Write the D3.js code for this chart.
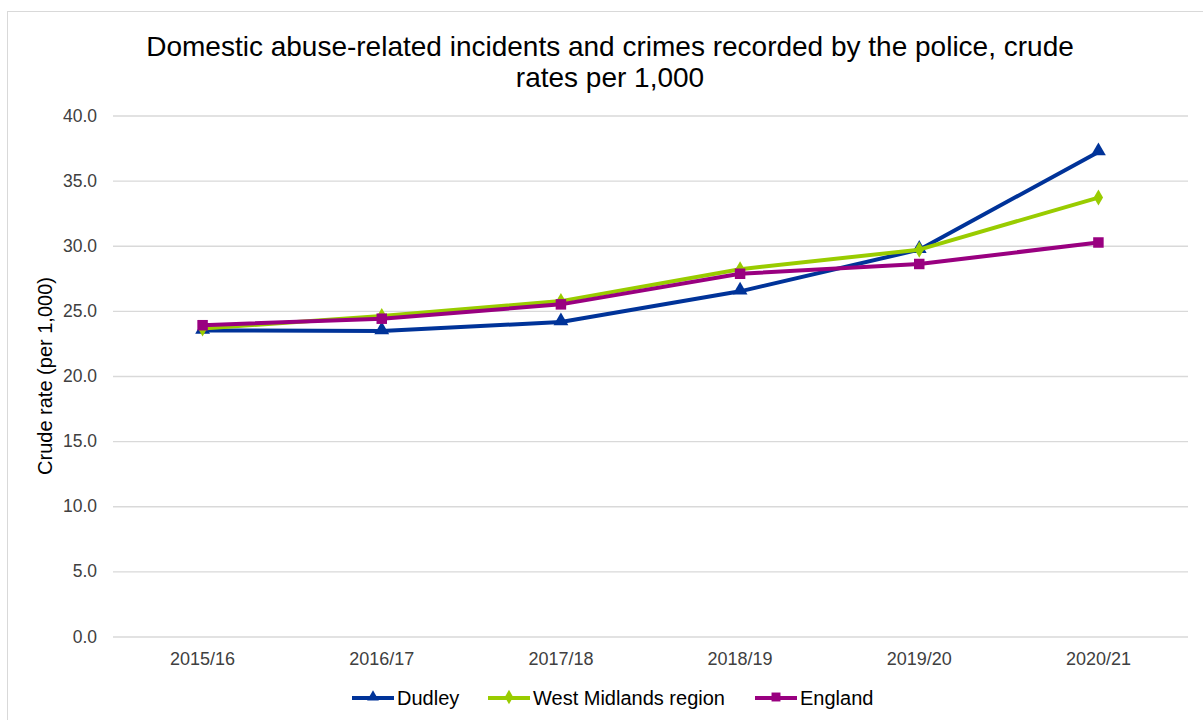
<!DOCTYPE html>
<html>
<head>
<meta charset="utf-8">
<script src="https://cdn.jsdelivr.net/npm/d3@7"></script>
<style>
  html, body { margin: 0; padding: 0; background: #fff; }
  svg { display: block; font-family: "Liberation Sans", Arial, sans-serif; }
</style>
</head>
<body>
<svg id="chart" width="1203" height="720"></svg>
<script>
// Financial years on the x axis
const years = ["2015/16", "2016/17", "2017/18", "2018/19", "2019/20", "2020/21"];

// Crude rates per 1,000 population
const dudley = [23.5, 23.45, 24.15, 26.5, 29.7, 37.2];
const westMidlands = [23.65, 24.6, 25.75, 28.2, 29.7, 33.7];
const england = [23.9, 24.4, 25.5, 27.85, 28.6, 30.25];

const yTicks = [0, 5, 10, 15, 20, 25, 30, 35, 40];

const seriesList = [
  { name: "Dudley", values: dudley, color: "#003399", marker: "triangle" },
  { name: "West Midlands region", values: westMidlands, color: "#99CC00", marker: "diamond" },
  { name: "England", values: england, color: "#990080", marker: "square" }
];

const svg = d3.select("#chart");
const W = 1203, H = 720;
const plot = { left: 113, right: 1188, top: 115.5, bottom: 636.5 };

// Outer chart border
svg.append("rect")
  .attr("x", 7.5).attr("y", 11.5)
  .attr("width", W + 10).attr("height", H + 10)
  .attr("fill", "#fff").attr("stroke", "#d9d9d9").attr("stroke-width", 1);

const x = d3.scaleBand().domain(years).range([plot.left, plot.right]);
const y = d3.scaleLinear().domain([0, 40]).range([plot.bottom, plot.top]);

// Horizontal gridlines and y tick labels
const yAxis = d3.axisLeft(y).tickValues(yTicks).tickFormat(d3.format(".1f"))
  .tickSize(-(plot.right - plot.left)).tickPadding(16);
const gy = svg.append("g").attr("transform", `translate(${plot.left},0)`).call(yAxis);
gy.select(".domain").remove();
gy.selectAll(".tick line").attr("stroke", "#d9d9d9").attr("stroke-width", 1.3);
gy.selectAll(".tick text").attr("fill", "#404040").attr("font-size", 17.5)
  .attr("font-family", "Liberation Sans, Arial, sans-serif");

// Category labels
const xAxis = d3.axisBottom(x).tickSize(0).tickPadding(16);
const gx = svg.append("g").attr("transform", `translate(0,${plot.bottom})`).call(xAxis);
gx.select(".domain").remove();
gx.selectAll(".tick text").attr("fill", "#404040").attr("font-size", 18)
  .attr("font-family", "Liberation Sans, Arial, sans-serif");

const cx = d => x(d) + x.bandwidth() / 2;

const symbolFor = {
  triangle: d3.symbol().type(d3.symbolTriangle).size(95),
  diamond: d3.symbol().type(d3.symbolDiamond).size(75),
  square: d3.symbol().type(d3.symbolSquare).size(110)
};

const line = d3.line().x((d, i) => cx(years[i])).y(d => y(d));

seriesList.forEach(s => {
  svg.append("path").datum(s.values)
    .attr("d", line)
    .attr("fill", "none")
    .attr("stroke", s.color)
    .attr("stroke-width", 4)
    .attr("stroke-linejoin", "round");
  svg.append("g").selectAll("path").data(s.values).join("path")
    .attr("transform", (d, i) => `translate(${cx(years[i])},${y(d) + (s.marker === "triangle" ? -1 : 0)})`)
    .attr("d", symbolFor[s.marker]())
    .attr("fill", s.color);
});

// Title
const title = svg.append("text")
  .attr("text-anchor", "middle")
  .attr("font-size", 28).attr("fill", "#000");
title.append("tspan").attr("x", 610).attr("y", 56)
  .text("Domestic abuse-related incidents and crimes recorded by the police, crude");
title.append("tspan").attr("x", 610).attr("y", 87).text("rates per 1,000");

// Y axis title
svg.append("text")
  .attr("transform", `translate(52,${(plot.top + plot.bottom) / 2}) rotate(-90)`)
  .attr("text-anchor", "middle")
  .attr("font-size", 20).attr("fill", "#000")
  .text("Crude rate (per 1,000)");

// Legend
const legendItems = [
  { s: seriesList[0], x0: 352 },
  { s: seriesList[1], x0: 488 },
  { s: seriesList[2], x0: 755 }
];
const ly = 698;
legendItems.forEach(({ s, x0 }) => {
  const g = svg.append("g");
  g.append("line").attr("x1", x0).attr("x2", x0 + 42).attr("y1", ly).attr("y2", ly)
    .attr("stroke", s.color).attr("stroke-width", 4);
  g.append("path").attr("transform", `translate(${x0 + 21},${ly - 1})`)
    .attr("d", d3.symbol().type(
      s.marker === "triangle" ? d3.symbolTriangle : s.marker === "diamond" ? d3.symbolDiamond : d3.symbolSquare
    ).size(s.marker === "square" ? 80 : 60)())
    .attr("fill", s.color);
  g.append("text").attr("x", x0 + 45).attr("y", ly + 7)
    .attr("font-size", 20).attr("fill", "#000").text(s.name);
});
</script>
</body>
</html>
